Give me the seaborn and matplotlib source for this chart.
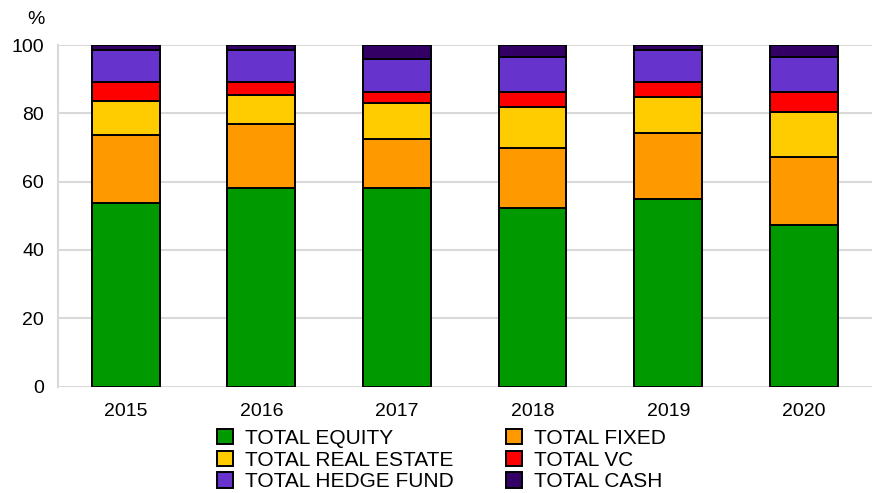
import numpy as np
import pandas as pd
import matplotlib
matplotlib.use("Agg")
import matplotlib.pyplot as plt
import seaborn as sns

years = ["2015", "2016", "2017", "2018", "2019", "2020"]
equity = [53.6, 58.0, 58.0, 52.4, 54.9, 47.3]
fixed = [20.0, 18.8, 14.4, 17.5, 19.3, 20.0]
real_estate = [10.1, 8.6, 10.6, 11.9, 10.7, 13.2]
vc = [5.6, 3.7, 3.1, 4.3, 4.3, 5.6]
hedge_fund = [9.2, 9.4, 9.9, 10.5, 9.3, 10.5]
cash = [1.5, 1.5, 4.0, 3.4, 1.5, 3.4]

series = ["TOTAL EQUITY", "TOTAL FIXED", "TOTAL REAL ESTATE",
          "TOTAL VC", "TOTAL HEDGE FUND", "TOTAL CASH"]
colors = ["#009900", "#FF9900", "#FFCC00", "#FF0000", "#6633CC", "#330066"]

df = pd.DataFrame({"year": years,
                   series[0]: equity, series[1]: fixed, series[2]: real_estate,
                   series[3]: vc, series[4]: hedge_fund, series[5]: cash})

sns.set_theme(style="white")
plt.rcParams["font.family"] = ["Liberation Sans", "DejaVu Sans"]
plt.rcParams["text.color"] = "black"

fig = plt.figure(figsize=(8.73, 4.93), dpi=100)
ax = fig.add_axes([0.0664, 0.216, 0.932, 0.6927])

# stacked bars: one barplot per series, each sitting on the running total
bottom = np.zeros(len(years))
handles = []
for name, col in zip(series, colors):
    sns.barplot(data=df, x="year", y=name, color=col, width=0.5,
                bottom=bottom, edgecolor="black", linewidth=1.4,
                saturation=1, ax=ax)
    handles.append(plt.Rectangle((0, 0), 1, 1, facecolor=col,
                                 edgecolor="black", linewidth=1.4))
    bottom = bottom + df[name].values

ax.set_xlim(-0.5, 5.5)
ax.set_ylim(0, 100)
ax.set_yticks([0, 20, 40, 60, 80, 100])
ax.set_xlabel("")
ax.set_ylabel("")
ax.yaxis.grid(True, color="#d9d9d9", linewidth=1.5)
ax.set_axisbelow(True)
for s in ["top", "right", "bottom"]:
    ax.spines[s].set_visible(False)
ax.spines["left"].set_color("#d9d9d9")
ax.spines["left"].set_linewidth(1.5)
ax.tick_params(axis="y", length=0, pad=10, labelsize=14, colors="black")
ax.tick_params(axis="x", length=0, pad=12, labelsize=14, colors="black")

fig.text(0.041, 0.961, "%", fontsize=14, ha="center", va="center")

order = [0, 2, 4, 1, 3, 5]
fig.legend([handles[i] for i in order], [series[i] for i in order],
           ncol=2, loc="upper center", bbox_to_anchor=(0.506, 0.130),
           frameon=False, fontsize=15, handlelength=0.75, handleheight=0.75,
           handletextpad=0.6, columnspacing=2.5, labelspacing=0.13,
           borderaxespad=0, borderpad=0, labelcolor="black")

fig.savefig("out.png", dpi=100)
